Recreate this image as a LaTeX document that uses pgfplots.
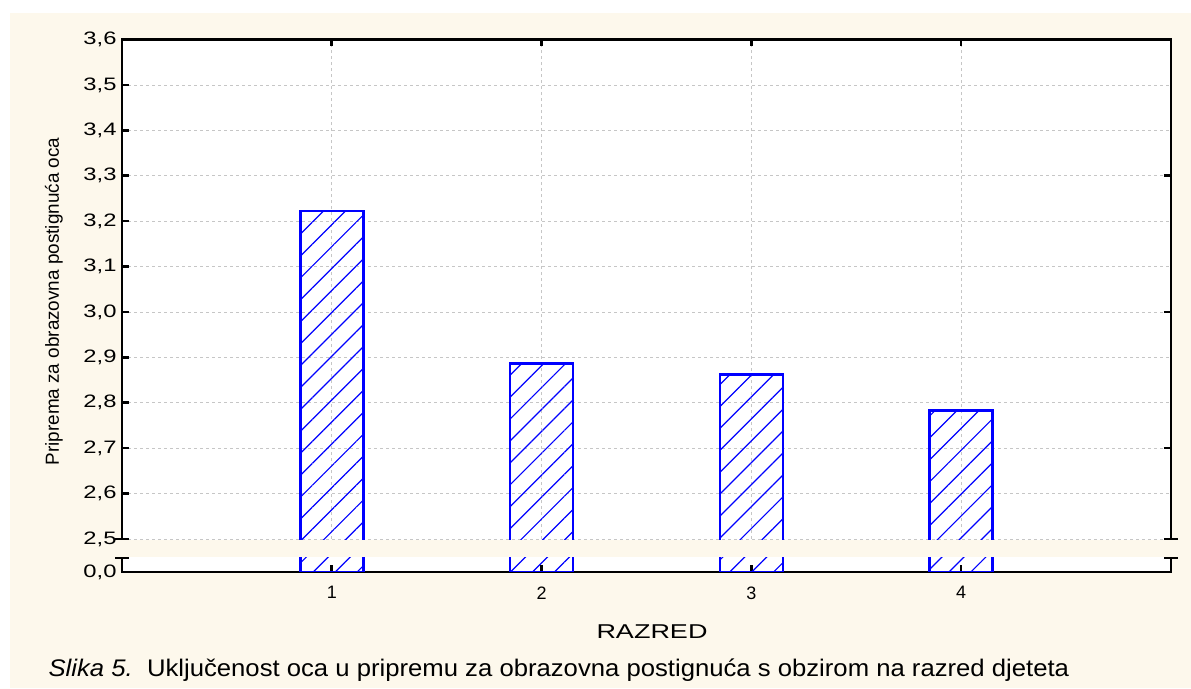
\documentclass[border=0pt]{standalone}
\usepackage{fontspec}
\setmainfont{Liberation Sans}
\newfontfamily\tickfont[FakeStretch=1.32]{Liberation Sans}
\newfontfamily\labfont[FakeStretch=1.35]{Liberation Sans}
\newfontfamily\capfont[FakeStretch=1.07]{Liberation Sans}
\usepackage{pgfplots}
\pgfplotsset{compat=1.18}
\usetikzlibrary{patterns.meta}
\definecolor{cream}{HTML}{FDF8EC}
\definecolor{barblue}{HTML}{0000FF}
\pgfplotstableread{
x y
1 3.222
2 2.886
3 2.862
4 2.783
}\bardata
\pgfplotsset{
  common/.style={
    scale only axis, width=1049pt, xmin=0, xmax=5,
    axis background/.style={fill=white},
    axis line style={line width=2.6pt, black},
    every tick/.style={line width=2.6pt, black},
    tick align=inside, major tick length=7pt,
    xtick={1,2,3,4}, clip mode=individual,
    /pgf/number format/assume math mode=true,
    /pgf/number format/use comma, /pgf/number format/fixed,
    /pgf/number format/fixed zerofill, /pgf/number format/precision=1,
    ticklabel style={font=\tickfont\fontsize{18}{18}\selectfont, text=black},
  },
  barstyle/.style={ybar, bar width=63pt, draw=barblue, line width=2.6pt,
    pattern={Lines[angle=45,distance=15.5pt,line width=1.2pt]}, pattern color=barblue},
}
\begin{document}
\begin{tikzpicture}[x=1pt,y=1pt]
\fill[white] (0,0) rectangle (1191,688);
\fill[cream] (10,0) rectangle (1191,675);
% upper part (its bottom is hidden under the lower part and the break band)
\begin{axis}[common, at={(122pt,130.84pt)}, anchor=south west, height=517.66pt,
  ymin=2.46, ymax=3.6,
  xtick pos=top, ytick pos=left,
  ytick={2.5,2.6,2.7,2.8,2.9,3.0,3.1,3.2,3.3,3.4,3.5,3.6},
  xticklabels={},
  xmajorgrids, ymajorgrids,
  major grid style={gray!45, dash pattern=on 3pt off 3pt, line width=0.8pt},
  yticklabel style={xshift=-2pt}]
\addplot[barstyle] table[x=x,y=y] {\bardata};
\draw[line width=2.6pt] (axis cs:5,2.7) -- ++(-7pt,0pt);
\draw[line width=2.6pt] (axis cs:5,3.0) -- ++(-7pt,0pt);
\draw[line width=2.6pt] (axis cs:5,3.3) -- ++(-7pt,0pt);
\end{axis}
% lower part (its top is hidden under the break band)
\begin{axis}[common, at={(122pt,116pt)}, anchor=south west, height=30pt,
  ymin=0, ymax=1,
  xtick pos=bottom, ytick pos=left,
  ytick={0}, xticklabels={1,2,3,4},
  xticklabel style={font=\fontsize{18}{18}\selectfont, yshift=-11pt},
  yticklabel style={xshift=-2pt}]
\addplot[barstyle] table[x=x,y=y] {\bardata};
\end{axis}
% break band
\fill[cream] (116,130.8) rectangle (1191,147.6);
\draw[line width=2.6pt] (115,149) -- (129,149);
\draw[line width=2.6pt] (1164,149) -- (1178,149);
\draw[line width=2.6pt] (115,130) -- (129,130);
\draw[line width=2.6pt] (1164,130) -- (1178,130);
\node[rotate=90, font=\fontsize{18.9}{18.9}\selectfont] at (54,386.5) {Priprema za obrazovna postignuća oca};
\node[font=\labfont\fontsize{20}{20}\selectfont] at (652,56) {RAZRED};
\node[anchor=west, font=\capfont\fontsize{24}{24}\selectfont] at (45,18) {\textit{Slika 5.}\ \ Uključenost oca u pripremu za obrazovna postignuća s obzirom na razred djeteta};
\end{tikzpicture}
\end{document}
